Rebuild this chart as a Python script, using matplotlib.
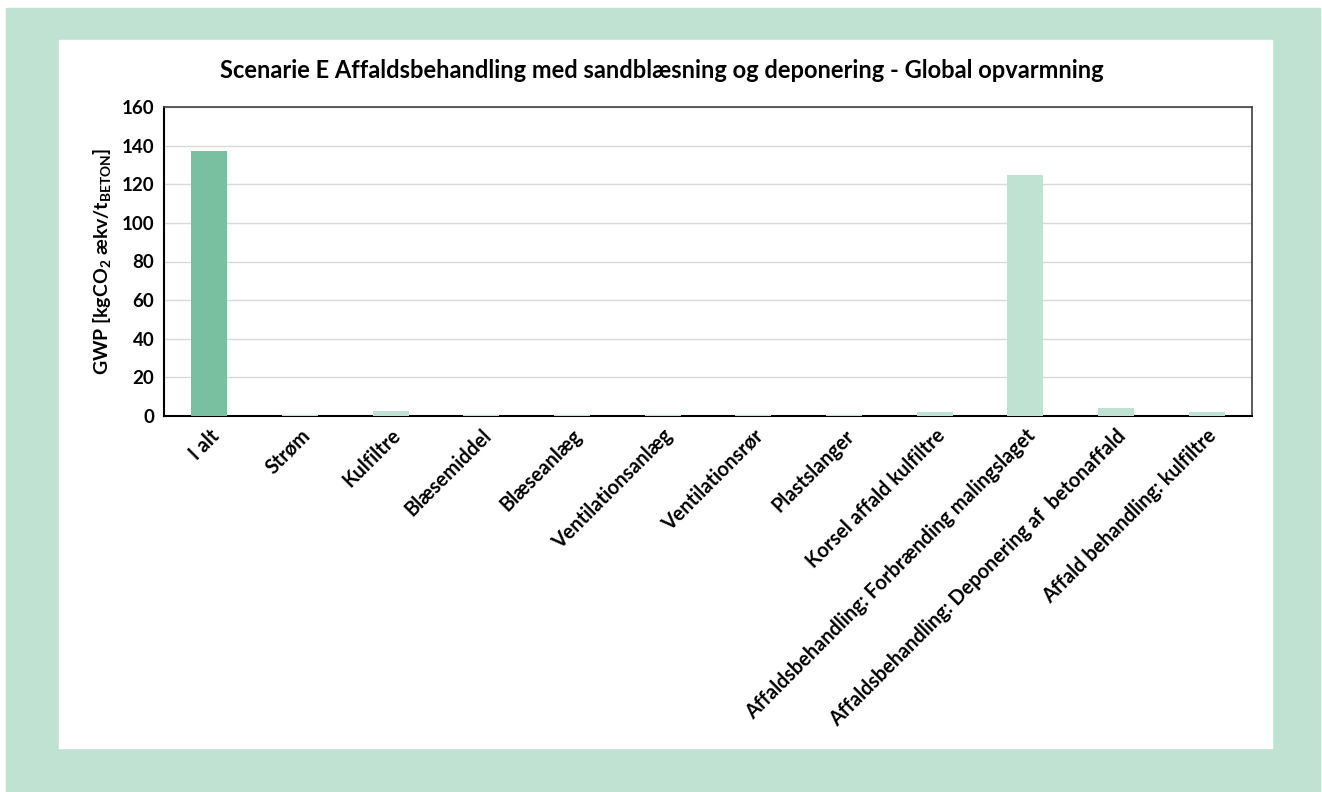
import matplotlib
matplotlib.use("Agg")
import matplotlib.pyplot as plt
from matplotlib.patches import Rectangle

# data
kategorier = ["I alt", "Strøm", "Kulfiltre", "Blæsemiddel", "Blæseanlæg",
              "Ventilationsanlæg", "Ventilationsrør", "Plastslanger",
              "Korsel affald kulfiltre", "Affaldsbehandling: Forbrænding malingslaget",
              "Affaldsbehandling: Deponering af  betonaffald",
              "Affald behandling: kulfiltre"]
gwp = [137, 0.5, 2.6, 0.5, 0.5, 0.5, 0.5, 0.5, 2.1, 125, 4.1, 2.1]
yticks = [0, 20, 40, 60, 80, 100, 120, 140, 160]

plt.rcParams['font.family'] = ['Lato', 'DejaVu Sans']
plt.rcParams['mathtext.fontset'] = 'custom'
plt.rcParams['mathtext.rm'] = 'Lato:bold'
plt.rcParams['mathtext.bf'] = 'Lato:bold'
plt.rcParams['mathtext.default'] = 'rm'

W, H = 1322, 792
fig = plt.figure(figsize=(W / 100, H / 100), dpi=100, facecolor="white")

# groen ramme og hvid flade
fig.patches.append(Rectangle((6 / W, 0), (1320 - 6) / W, (792 - 8) / H,
                             transform=fig.transFigure, color="#BFE2D2", zorder=0))
fig.patches.append(Rectangle((59 / W, (792 - 748) / H), (1272 - 59) / W, (748 - 40) / H,
                             transform=fig.transFigure, color="white", zorder=1))

ax = fig.add_axes([164 / W, (792 - 416) / H, (1252 - 164) / W, (416 - 107) / H])
ax.set_zorder(2)

farver = ["#79C0A0"] + ["#BFE2D2"] * (len(kategorier) - 1)
ax.bar(range(len(kategorier)), gwp, width=0.4, color=farver, zorder=3)

ax.set_xlim(-0.5, len(kategorier) - 0.5)
ax.set_ylim(0, 160)
ax.set_yticks(yticks)
ax.yaxis.grid(True, color="#D9D9D9", linewidth=1, zorder=0)
ax.set_axisbelow(True)

ax.set_xticks(range(len(kategorier)))
ax.set_xticklabels(kategorier, rotation=45, ha="right", rotation_mode="anchor",
                   fontsize=14.3, fontweight="bold")
for lbl in ax.get_yticklabels():
    lbl.set_fontsize(13.5)
    lbl.set_fontweight("bold")
ax.tick_params(axis="both", length=0, pad=7)

for side in ["left", "bottom"]:
    ax.spines[side].set_color("black")
    ax.spines[side].set_linewidth(1.5)
for side in ["top", "right"]:
    ax.spines[side].set_color("#404040")
    ax.spines[side].set_linewidth(1.2)

ax.set_ylabel(r"GWP [kgCO$_2$ ækv/t$_{BETON}$]", fontsize=14, fontweight="bold", labelpad=6)
fig.text(662 / W, (792 - 70) / H,
         "Scenarie E Affaldsbehandling med sandblæsning og deponering - Global opvarmning",
         ha="center", va="center", fontsize=17, fontweight="bold")

fig.savefig("out.png", dpi=100, facecolor=fig.get_facecolor())
